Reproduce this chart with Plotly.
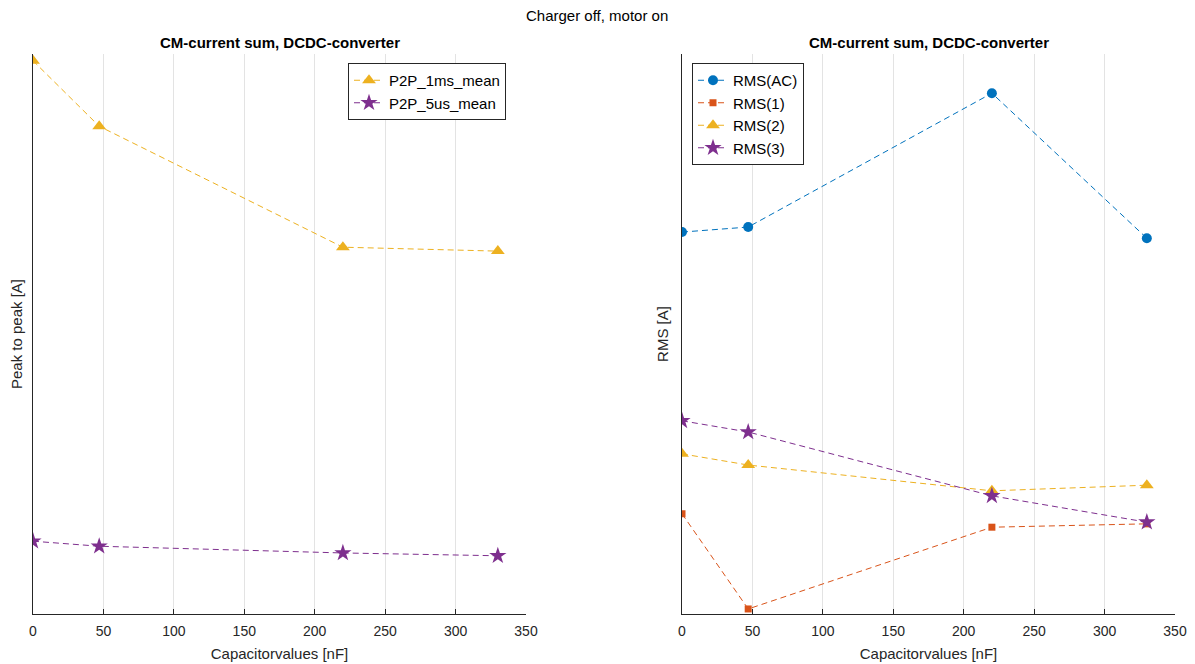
import plotly.graph_objects as go

cap = [0, 47, 220, 330]
p2p_1ms = [9.88, 8.71, 6.55, 6.48]
p2p_5us = [1.30, 1.21, 1.09, 1.04]

rms_ac = [6.82, 6.91, 9.30, 6.71]
rms_1 = [1.79, 0.09, 1.55, 1.61]
rms_2 = [2.86, 2.66, 2.20, 2.30]
rms_3 = [3.45, 3.25, 2.11, 1.64]

xticks = [0, 50, 100, 150, 200, 250, 300, 350]

BLUE = "#0072BD"
ORANGE = "#D95319"
YELLOW = "#EDB120"
PURPLE = "#7E2F8E"
FONT = "Liberation Sans"
TXT = "#262626"

fig = go.Figure()

def add(x, y, name, color, symbol, size, xa, ya, legend):
    fig.add_trace(go.Scatter(
        x=x, y=y, name=name, mode="lines+markers",
        line=dict(color=color, width=1, dash="6px,4px"),
        marker=dict(color=color, symbol=symbol, size=size, line=dict(width=0)),
        xaxis=xa, yaxis=ya, legend=legend))

add(cap, p2p_1ms, "P2P_1ms_mean", YELLOW, "triangle-up", 12, "x", "y", "legend")
add(cap, p2p_5us, "P2P_5us_mean", PURPLE, "star", 13, "x", "y", "legend")
add(cap, rms_ac, "RMS(AC)", BLUE, "circle", 10, "x2", "y2", "legend2")
add(cap, rms_1, "RMS(1)", ORANGE, "square", 7, "x2", "y2", "legend2")
add(cap, rms_2, "RMS(2)", YELLOW, "triangle-up", 12, "x2", "y2", "legend2")
add(cap, rms_3, "RMS(3)", PURPLE, "star", 13, "x2", "y2", "legend2")

W, H = 1195, 664
OFF = 8  # page body margin
def px(x):
    return (x - OFF) / W
def py(y):
    return (H - (y - OFF)) / H

ydom = [py(614), py(54)]
xdom1 = [px(33), px(526)]
xdom2 = [px(682), px(1175)]

xcommon = dict(range=[0, 350], tickvals=xticks, showgrid=True, gridcolor="#e3e3e3",
               gridwidth=1, showline=True, linecolor=TXT, linewidth=1, ticks="inside",
               ticklen=5, tickcolor=TXT, zeroline=False, automargin=False,
               ticklabelstandoff=4,
               tickfont=dict(family=FONT, size=14, color=TXT),
               title=dict(text="Capacitorvalues [nF]", font=dict(family=FONT, size=15, color=TXT), standoff=10))
ycommon = dict(range=[0, 10], showticklabels=False, ticks="", showgrid=False, zeroline=False,
               showline=True, linecolor=TXT, linewidth=1, automargin=False)

fig.update_layout(
    width=W, height=H, margin=dict(l=0, r=0, t=0, b=0),
    paper_bgcolor="white", plot_bgcolor="white",
    font=dict(family=FONT, color=TXT),
    xaxis=dict(domain=xdom1, anchor="y", **xcommon),
    yaxis=dict(domain=ydom, anchor="x",
               title=dict(text="Peak to peak [A]", font=dict(family=FONT, size=15, color=TXT), standoff=6),
               **ycommon),
    xaxis2=dict(domain=xdom2, anchor="y2", **xcommon),
    yaxis2=dict(domain=ydom, anchor="x2",
                title=dict(text="RMS [A]", font=dict(family=FONT, size=15, color=TXT), standoff=8),
                **ycommon),
    legend=dict(x=px(506), xanchor="right", y=py(63), yanchor="top",
                bgcolor="white", bordercolor=TXT, borderwidth=1,
                font=dict(family=FONT, size=15, color="black"), tracegroupgap=0,
                itemwidth=30),
    legend2=dict(x=px(692), xanchor="left", y=py(63), yanchor="top",
                 bgcolor="white", bordercolor=TXT, borderwidth=1,
                 font=dict(family=FONT, size=15, color="black"), tracegroupgap=0,
                 itemwidth=30),
    showlegend=True,
    annotations=[
        dict(text="Charger off, motor on", x=px(597), y=py(15), xref="paper", yref="paper",
             showarrow=False, font=dict(family=FONT, size=15, color="black"), xanchor="center", yanchor="middle"),
        dict(text="<b>CM-current sum, DCDC-converter</b>", x=px((33 + 526) / 2), y=py(43),
             xref="paper", yref="paper", showarrow=False,
             font=dict(family=FONT, size=15, color="black"), xanchor="center", yanchor="middle"),
        dict(text="<b>CM-current sum, DCDC-converter</b>", x=px((682 + 1175) / 2), y=py(43),
             xref="paper", yref="paper", showarrow=False,
             font=dict(family=FONT, size=15, color="black"), xanchor="center", yanchor="middle"),
    ],
)

fig.write_html("out.html")
